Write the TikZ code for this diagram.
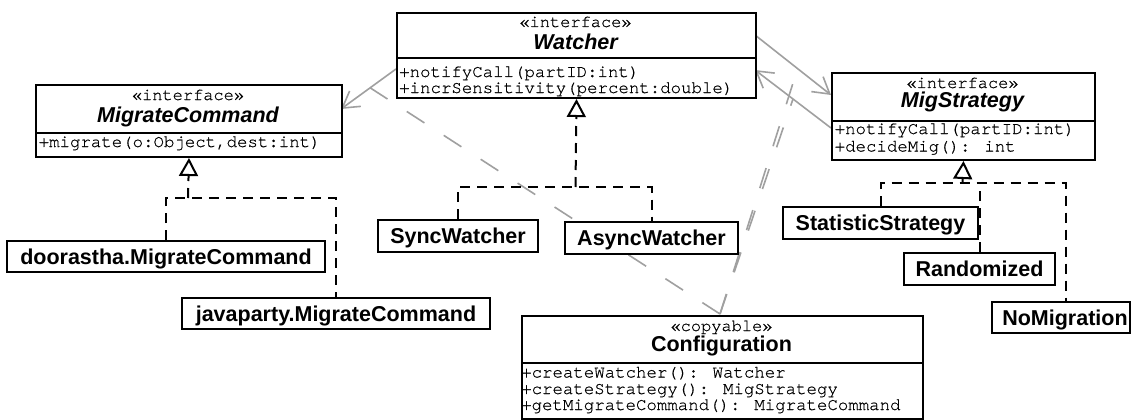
\documentclass[tikz,border=0pt]{standalone}
\usepackage{fontspec}
\setmainfont{Liberation Sans}
\newfontfamily\codefont{TeX Gyre Cursor}[FakeBold=0.5]
\usetikzlibrary{arrows.meta,calc}
\pgfdeclarelayer{background}
\pgfsetlayers{background,main}
\definecolor{linkgray}{RGB}{160,160,160}

\tikzset{
  classbox/.style={draw=black, line width=2pt, fill=white, rectangle, inner sep=0pt, anchor=north west},
  implbox/.style={draw=black, line width=2pt, fill=white, rectangle, inner sep=0pt,
    font=\fontsize{21.5}{21.5}\selectfont\bfseries, text height=15.4pt, text depth=0pt},
  stereo/.style={inner sep=0pt, anchor=base, font=\codefont\fontsize{17}{17}\selectfont},
  cname/.style={inner sep=0pt, anchor=base, font=\fontsize{21.5}{21.5}\selectfont\bfseries\itshape},
  pname/.style={inner sep=0pt, anchor=base, font=\fontsize{21.5}{21.5}\selectfont\bfseries},
  member/.style={inner sep=0pt, anchor=base west, font=\codefont\fontsize{17.4}{17.4}\selectfont},
  divider/.style={line width=2pt},
  assoc/.style={draw=linkgray, line width=1.6pt, -{Straight Barb[length=16pt,width=19pt]}},
  assocclass/.style={draw=linkgray, line width=1.6pt, dash pattern=on 21pt off 23pt},
  realize/.style={draw=black, line width=2pt, dash pattern=on 10pt off 7pt},
  realizetip/.style={realize, -{Triangle[open,length=18pt,width=19pt]}}
}

\begin{document}
\begin{tikzpicture}[x=1pt,y=-1pt]
\begin{pgfonlayer}{background}
  \path[use as bounding box, fill=white] (0,0) rectangle (1132,419);
\end{pgfonlayer}

% ---- interfaces ----
\node[classbox, minimum width=359pt, minimum height=85pt] (watcher) at (396,12) {};
\draw[divider] (396,58) -- (755,58);
\node[stereo] (watcherStereo) at (575.5,27) {«interface»};
\node[cname] (watcherName) at (575.5,49) {Watcher};
\node[member] (watcherOp1) at (399,77) {+notifyCall(partID:int)};
\node[member] (watcherOp2) at (399,93) {+incrSensitivity(percent:double)};

\node[classbox, minimum width=306pt, minimum height=72pt] (migrateCommand) at (35,84) {};
\draw[divider] (35,133) -- (341,133);
\node[stereo] (mcStereo) at (188,100) {«interface»};
\node[cname] (mcName) at (188,122) {MigrateCommand};
\node[member] (mcOp1) at (38.5,147) {+migrate(o:Object,dest:int)};

\node[classbox, minimum width=263pt, minimum height=87pt] (migStrategy) at (831,72) {};
\draw[divider] (831,121) -- (1094,121);
\node[stereo] (msStereo) at (962.5,88) {«interface»};
\node[cname] (msName) at (962.5,107.5) {MigStrategy};
\node[member] (msOp1) at (834.5,134) {+notifyCall(partID:int)};
\node[member] (msOp2) at (834.5,151.5) {+decideMig(): int};

% ---- configuration class ----
\node[classbox, minimum width=401pt, minimum height=103pt] (configuration) at (521,315) {};
\draw[divider] (521,363) -- (922,363);
\node[stereo] (cfgStereo) at (721.5,331) {«copyable»};
\node[pname] (cfgName) at (721.5,351.5) {Configuration};
\node[member] (cfgOp1) at (521,377.5) {+createWatcher(): Watcher};
\node[member] (cfgOp2) at (521,394) {+createStrategy(): MigStrategy};
\node[member] (cfgOp3) at (521,410) {+getMigrateCommand(): MigrateCommand};

% ---- implementations ----
\node[implbox, minimum width=318pt, minimum height=31pt] (doorastha) at (166,256.5) {doorastha.MigrateCommand};
\node[implbox, minimum width=308pt, minimum height=31pt] (javaparty) at (336,313.5) {javaparty.MigrateCommand};
\node[implbox, minimum width=160pt, minimum height=32pt] (syncWatcher) at (458,236) {SyncWatcher};
\node[implbox, minimum width=173pt, minimum height=32pt] (asyncWatcher) at (651.5,238) {AsyncWatcher};
\node[implbox, minimum width=195pt, minimum height=32pt] (statisticStrategy) at (880.5,223) {StatisticStrategy};
\node[implbox, minimum width=151pt, minimum height=32pt] (randomized) at (979.5,269) {Randomized};
\node[implbox, minimum width=138pt, minimum height=31pt] (noMigration) at (1061,317.5) {};
\node[pname] (noMigrationText) at (1065,325.2) {NoMigration};

% ---- connectors ----
\coordinate (wLeft) at (396,69);
\coordinate (mcRight) at (341,109);
\coordinate (wRightTop) at (755,35);
\coordinate (msLeftTop) at (831,95);
\coordinate (msLeftLow) at (831,128);
\coordinate (wRightLow) at (755,70);
\coordinate (cfgTop) at (720,314);
\coordinate (mcJoin) at (188,198);
\coordinate (wJoin) at (575.5,187);
\coordinate (msJoin) at (962.5,183);
\coordinate (noMigTop) at (1066,302);

\begin{pgfonlayer}{background}
  % associations
  \draw[assoc] (wLeft) -- (mcRight);
  \draw[assoc] (wRightTop) -- (msLeftTop);
  \draw[assoc] (msLeftLow) -- (wRightLow);
  \path (wLeft) -- (mcRight) coordinate[pos=0.47] (assocMc);
  \path (wRightTop) -- (msLeftTop) coordinate[pos=0.56] (assocMsA);
  \path (msLeftLow) -- (wRightLow) coordinate[pos=0.5] (assocMsB);
  % association class links
  \draw[assocclass] (cfgTop) -- (assocMc);
  \draw[assocclass] (cfgTop) -- (assocMsA);
  \draw[assocclass] (cfgTop) -- (assocMsB);
  % realizations
  \draw[realize] (doorastha.north) |- (mcJoin) -| (javaparty.north);
  \draw[realizetip] (mcJoin) -- (migrateCommand.south);
  \draw[realize] (syncWatcher.north) |- (wJoin) -| (asyncWatcher.north);
  \draw[realizetip] (wJoin) -- (watcher.south);
  \draw[realize] (statisticStrategy.north) |- (msJoin) -| (noMigTop);
  \draw[realize] (randomized.north) -- (randomized.north |- msJoin);
  \draw[realizetip] (msJoin) -- (migStrategy.south);
\end{pgfonlayer}
\end{tikzpicture}
\end{document}
